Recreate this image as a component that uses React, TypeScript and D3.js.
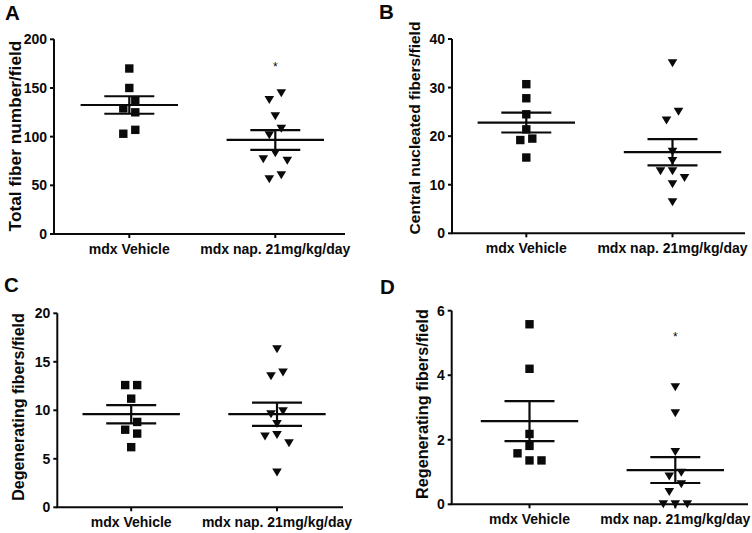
import React from "react";
import * as d3 from "d3";

// ---------- data ----------
const categories = ["mdx Vehicle", "mdx nap. 21mg/kg/day"];
const panelLetters = ["A", "B", "C", "D"];
const yTitles = [
  "Total fiber number/field",
  "Central nucleated fibers/field",
  "Degenerating fibers/field",
  "Regenerating fibers/field",
];
const yMaxes = [200, 40, 20, 6];
const yTickSteps = [50, 10, 5, 2];

const totalFiberVehicle = [170, 150, 137, 129, 125, 107, 103];
const totalFiberNap = [144.5, 137.7, 121, 108, 101.4, 83, 76.7, 75.3, 60.3, 56.2];
const centralNucVehicle = [30.7, 27.8, 24.5, 21.4, 19.5, 19.2, 15.6];
const centralNucNap = [35, 25, 23.2, 16.8, 14.9, 12.75, 12.75, 11.4, 10.1, 6.4];
const degenVehicle = [12.6, 12.6, 11.2, 8.8, 8.0, 7.6, 6.2];
const degenNap = [16.3, 13.9, 13.5, 9.9, 9.6, 8.6, 7.45, 7.3, 6.6, 3.6];
const regenVehicle = [5.58, 4.2, 2.18, 1.81, 1.58, 1.36, 1.36];
const regenNap = [3.63, 2.82, 1.62, 0.98, 0.86, 0.62, 0.38, 0, 0, 0];

const vehicleMeans = [132.5, 22.8, 9.6, 2.58];
const vehicleSems = [9.0, 2.05, 0.94, 0.62];
const napMeans = [96.6, 16.7, 9.6, 1.06];
const napSems = [10.1, 2.7, 1.2, 0.4];
const significance = [174, null, null, 5.27]; // "*" above nap group

const seriesByPanel = [
  [totalFiberVehicle, totalFiberNap],
  [centralNucVehicle, centralNucNap],
  [degenVehicle, degenNap],
  [regenVehicle, regenNap],
];

// ---------- layout ----------
const layout = [
  { axisX: 54, yTop: 39.3, y0: 234, xEnd: 345, c1: 129.3, c2: 275.3, titleX: 21, titleCY: 136, letterX: 5, letterY: 20, titleSize: 17.3 },
  { axisX: 452, yTop: 39, y0: 233.3, xEnd: 745, c1: 526.3, c2: 672.5, titleX: 420, titleCY: 128, letterX: 379, letterY: 19, titleSize: 15.5 },
  { axisX: 57.3, yTop: 313.3, y0: 507.3, xEnd: 343, c1: 131.2, c2: 277, titleX: 24, titleCY: 407, letterX: 4, letterY: 292, titleSize: 16 },
  { axisX: 451.7, yTop: 310.7, y0: 504.3, xEnd: 748, c1: 529.5, c2: 675.3, titleX: 428, titleCY: 404, letterX: 380, letterY: 294, titleSize: 16.2 },
];

const FONT = "'Liberation Sans', Arial, Helvetica, sans-serif";
const INK = "#0a0a0a";

function dodge(values: number[], y: (v: number) => number, d = 9) {
  const items = values.map((v) => ({ v, py: y(v), dx: 0 }));
  const order = [...items].sort((a, b) => b.v - a.v);
  const cands = [0, -6, 6, -12, 12, -18, 18, -24, 24];
  const placed: { py: number; dx: number }[] = [];
  for (const it of order) {
    for (const c of cands) {
      const hit = placed.some((p) => Math.abs(p.py - it.py) < d && Math.abs(p.dx - c) < d);
      if (!hit) {
        it.dx = c;
        break;
      }
    }
    placed.push(it);
  }
  // recentre each vertically-connected group
  const sorted = [...items].sort((a, b) => a.py - b.py);
  let group: typeof items = [];
  const flush = () => {
    if (group.length) {
      const mn = d3.min(group, (g) => g.dx)!;
      const mx = d3.max(group, (g) => g.dx)!;
      const shift = -(mn + mx) / 2;
      group.forEach((g) => (g.dx += shift));
    }
    group = [];
  };
  sorted.forEach((it, i) => {
    if (i > 0 && it.py - sorted[i - 1].py >= d) flush();
    group.push(it);
  });
  flush();
  return items;
}

const triPath = (w: number, h: number) => `M${-w / 2},${-h / 2}L${w / 2},${-h / 2}L0,${h / 2}Z`;

function Panel({ idx }: { idx: number }) {
  const L = layout[idx];
  const y = d3.scaleLinear().domain([0, yMaxes[idx]]).range([L.y0, L.yTop]);
  const x = d3.scalePoint<string>().domain(categories).range([L.c1, L.c2]);
  const ticks = d3.range(0, yMaxes[idx] + 1e-9, yTickSteps[idx]);
  const means = [vehicleMeans[idx], napMeans[idx]];
  const sems = [vehicleSems[idx], napSems[idx]];
  const meanHalf = 48.7;
  const semHalf = 25;
  return (
    <g>
      <text x={L.letterX} y={L.letterY} fontFamily={FONT} fontWeight="bold" fontSize={20.5} fill={INK}>
        {panelLetters[idx]}
      </text>
      <text
        transform={`translate(${L.titleX},${L.titleCY}) rotate(-90)`}
        textAnchor="middle"
        fontFamily={FONT}
        fontWeight="bold"
        fontSize={L.titleSize}
        fill={INK}
      >
        {yTitles[idx]}
      </text>
      {/* y axis */}
      <line x1={L.axisX} x2={L.axisX} y1={L.y0} y2={L.yTop} stroke={INK} strokeWidth={2} />
      {ticks.map((t) => (
        <g key={t}>
          <line x1={L.axisX - 4} x2={L.axisX} y1={y(t)} y2={y(t)} stroke={INK} strokeWidth={2} />
          <text
            x={L.axisX - 7}
            y={y(t)}
            dy="0.36em"
            textAnchor="end"
            fontFamily={FONT}
            fontWeight="bold"
            fontSize={14}
            fill={INK}
          >
            {t}
          </text>
        </g>
      ))}
      {/* x axis */}
      <line x1={L.axisX - 1} x2={L.xEnd} y1={L.y0} y2={L.y0} stroke={INK} strokeWidth={2} />
      {categories.map((c) => (
        <g key={c}>
          <line x1={x(c)} x2={x(c)} y1={L.y0} y2={L.y0 + 4} stroke={INK} strokeWidth={2} />
          <text
            x={x(c)}
            y={L.y0 + 20}
            textAnchor="middle"
            fontFamily={FONT}
            fontWeight="bold"
            fontSize={14}
            fill={INK}
          >
            {c}
          </text>
        </g>
      ))}
      {/* points */}
      {seriesByPanel[idx].map((vals, gi) => {
        const cx = x(categories[gi])!;
        const pts = dodge(vals, y, 9);
        return (
          <g key={gi}>
            {pts.map((p, i) =>
              gi === 0 ? (
                <rect key={i} x={cx + p.dx - 4.2} y={p.py - 4.2} width={8.4} height={8.4} fill={INK} />
              ) : (
                <path key={i} d={triPath(9.6, 8)} transform={`translate(${cx + p.dx},${p.py})`} fill={INK} />
              )
            )}
          </g>
        );
      })}
      {/* mean +/- SEM */}
      {categories.map((c, gi) => {
        const cx = x(c)!;
        const m = means[gi];
        const s = sems[gi];
        return (
          <g key={"m" + gi} stroke={INK} strokeWidth={2.2}>
            <line x1={cx - meanHalf} x2={cx + meanHalf} y1={y(m)} y2={y(m)} />
            <line x1={cx - semHalf} x2={cx + semHalf} y1={y(m + s)} y2={y(m + s)} />
            <line x1={cx - semHalf} x2={cx + semHalf} y1={y(m - s)} y2={y(m - s)} />
            <line x1={cx} x2={cx} y1={y(m + s)} y2={y(m - s)} />
          </g>
        );
      })}
      {significance[idx] != null && (
        <text
          x={x(categories[1])}
          y={y(significance[idx] as number)}
          dy="0.55em"
          textAnchor="middle"
          fontFamily={FONT}
          fontSize={12}
          fill={INK}
        >
          *
        </text>
      )}
    </g>
  );
}

export default function App() {
  return (
    <svg width={752} height={533} style={{ display: "block", position: "absolute", left: 0, top: 0, background: "#fff" }}>
      <rect width={752} height={533} fill="#fff" />
      {[0, 1, 2, 3].map((i) => (
        <Panel key={i} idx={i} />
      ))}
    </svg>
  );
}
